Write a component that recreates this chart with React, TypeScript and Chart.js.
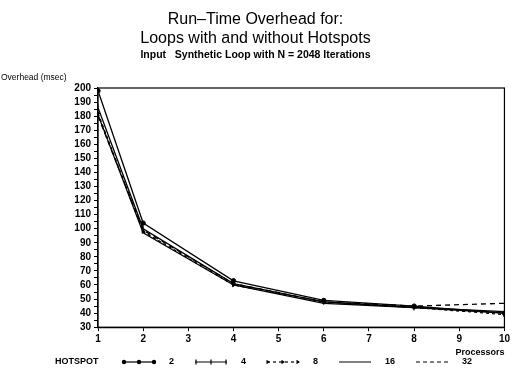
import React, { useEffect, useRef } from 'react';
import { Chart, registerables } from 'chart.js';

Chart.register(...registerables);

const processors = [1, 2, 4, 6, 8, 10];
const hotspot2 = [198, 104, 63, 49, 45, 40];
const hotspot4 = [186, 100, 61, 48, 44, 40];
const hotspot8 = [182, 98, 60, 48, 44, 39];
const hotspot16 = [181, 97, 60, 47, 44, 41];
const hotspot32 = [180, 99, 61, 48, 45, 47];
const seriesLabels = ['2', '4', '8', '16', '32'];
const legendTitle = 'HOTSPOT';
const titleLines = ['Run\u2013Time Overhead for:', 'Loops with and without Hotspots'];
const subtitleText = 'Input   Synthetic Loop with N = 2048 Iterations';
const yAxisTitle = 'Overhead (msec)';
const xAxisTitle = 'Processors';

const FONT = '"Liberation Sans", Arial, Helvetica, sans-serif';

type Kind = 'dot' | 'cross' | 'arrow' | 'solid' | 'dash';
const kinds: Kind[] = ['dot', 'cross', 'arrow', 'solid', 'dash'];

function drawSymbol(ctx: CanvasRenderingContext2D, kind: Kind, x0: number, y: number, w: number) {
  ctx.save();
  ctx.strokeStyle = '#000';
  ctx.fillStyle = '#000';
  ctx.lineWidth = 1.2;
  ctx.beginPath();
  if (kind === 'arrow') ctx.setLineDash([3, 3]);
  if (kind === 'dash') ctx.setLineDash([4, 3]);
  ctx.moveTo(x0, y);
  ctx.lineTo(x0 + w, y);
  ctx.stroke();
  ctx.setLineDash([]);
  const xs = [x0 + 1, x0 + w / 2, x0 + w - 1];
  xs.forEach((x) => {
    if (kind === 'dot') {
      ctx.beginPath();
      ctx.arc(x, y, 2.2, 0, Math.PI * 2);
      ctx.fill();
    } else if (kind === 'cross') {
      ctx.beginPath();
      ctx.moveTo(x, y - 2.5);
      ctx.lineTo(x, y + 2.5);
      ctx.stroke();
    } else if (kind === 'arrow') {
      ctx.beginPath();
      ctx.moveTo(x + 2, y);
      ctx.lineTo(x - 1.5, y - 2.2);
      ctx.lineTo(x - 1.5, y + 2.2);
      ctx.closePath();
      ctx.fill();
    }
  });
  ctx.restore();
}

const decorPlugin = {
  id: 'decor',
  afterDraw(chart: any) {
    const { ctx, chartArea } = chart;
    const { left, top, right, bottom } = chartArea;
    ctx.save();
    // frame
    ctx.strokeStyle = '#000';
    ctx.lineWidth = 1.2;
    ctx.strokeRect(left, top, right - left, bottom - top);
    // y axis title (horizontal, above the axis)
    ctx.fillStyle = '#000';
    ctx.font = `normal 8.5px ${FONT}`;
    ctx.textAlign = 'left';
    ctx.textBaseline = 'middle';
    ctx.fillText(yAxisTitle, 1, top - 10);
    // legend
    const ly = 362;
    ctx.font = `bold 9px ${FONT}`;
    ctx.fillText(legendTitle, 55, ly);
    let x = 123;
    const symW = 32;
    chart.data.datasets.forEach((ds: any, i: number) => {
      drawSymbol(ctx, kinds[i], x, ly, symW);
      x += symW + 14;
      ctx.fillStyle = '#000';
      ctx.font = `bold 9px ${FONT}`;
      ctx.fillText(ds.label, x, ly);
      x += ctx.measureText(ds.label).width + 21;
    });
    ctx.restore();
  },
};

export default function App() {
  const ref = useRef<HTMLCanvasElement | null>(null);

  useEffect(() => {
    document.body.style.margin = '0';
    const canvas = ref.current;
    if (!canvas) return;
    const series = [hotspot2, hotspot4, hotspot8, hotspot16, hotspot32];
    const pointStyles: any[] = ['circle', 'line', 'triangle', 'circle', 'circle'];
    const pointRadius = [2.2, 3, 2, 0, 0];
    const pointRotation = [0, 90, 90, 0, 0];
    const dashes = [[], [], [3, 3], [], [5, 4]];

    const chart = new Chart(canvas, {
      type: 'line',
      data: {
        datasets: series.map((vals, i) => ({
          label: seriesLabels[i],
          data: processors.map((p, j) => ({ x: p, y: vals[j] })),
          borderColor: '#000',
          backgroundColor: '#000',
          borderWidth: 1.3,
          borderDash: dashes[i],
          pointStyle: pointStyles[i],
          pointRadius: pointRadius[i],
          pointRotation: pointRotation[i],
          pointBorderColor: '#000',
          pointBackgroundColor: '#000',
          pointBorderWidth: 1,
          tension: 0,
        })),
      },
      options: {
        animation: false,
        responsive: false,
        maintainAspectRatio: false,
        layout: { padding: { left: 4, right: 5, top: 0, bottom: 22 } },
        plugins: {
          title: {
            display: true,
            text: titleLines,
            color: '#000',
            font: { family: FONT, size: 16, weight: 'normal', lineHeight: 1.2 },
            padding: { top: 10, bottom: 0 },
          },
          subtitle: {
            display: true,
            text: subtitleText,
            color: '#000',
            font: { family: FONT, size: 10.5, weight: 'bold', lineHeight: 1.2 },
            padding: { top: 0, bottom: 27 },
          },
          legend: { display: false },
          tooltip: { enabled: false },
        },
        scales: {
          x: {
            type: 'linear',
            min: 1,
            max: 10,
            ticks: {
              stepSize: 1,
              color: '#000',
              font: { family: FONT, size: 10, weight: 'bold' },
              padding: 2,
            },
            grid: { display: true, drawOnChartArea: false, drawTicks: true, tickLength: 4, color: '#000' },
            border: { display: true, color: '#000', width: 1.2 },
            title: {
              display: true,
              text: xAxisTitle,
              align: 'end',
              color: '#000',
              font: { family: FONT, size: 9, weight: 'bold' },
              padding: { top: 0, bottom: 0 },
            },
          },
          y: {
            type: 'linear',
            min: 30,
            max: 200,
            afterFit: (scale: any) => {
              scale.width = 94;
            },
            ticks: {
              stepSize: 5,
              autoSkip: false,
              color: '#000',
              font: { family: FONT, size: 10, weight: 'bold' },
              padding: 3,
              callback: (v: any) => (Number(v) % 10 === 0 ? String(v) : ''),
            },
            grid: { display: true, drawOnChartArea: false, drawTicks: true, tickLength: 4, color: '#000' },
            border: { display: true, color: '#000', width: 1.2 },
          },
        },
      },
      plugins: [decorPlugin],
    } as any);

    return () => chart.destroy();
  }, []);

  return (
    <div style={{ width: 512, height: 380 }}>
      <canvas ref={ref} width={512} height={380} style={{ display: 'block', width: 512, height: 380 }} />
    </div>
  );
}
